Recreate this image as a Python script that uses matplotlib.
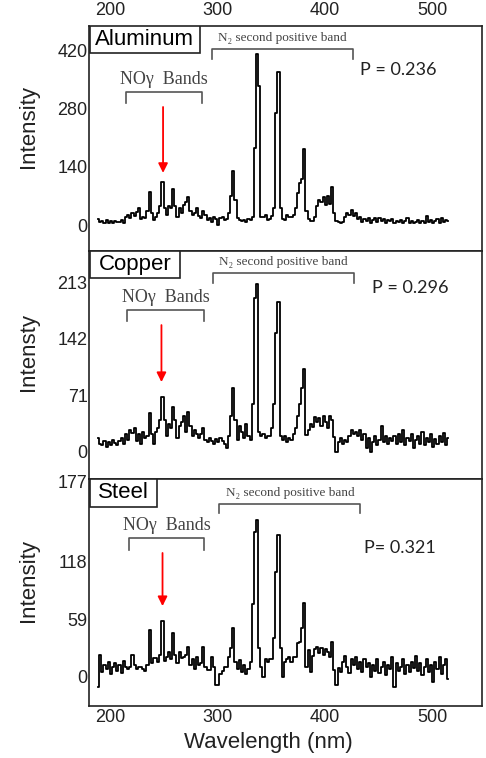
import matplotlib
matplotlib.use('Agg')
import matplotlib.pyplot as plt
from matplotlib.patches import Rectangle

plt.rcParams['font.family'] = ['Liberation Sans', 'DejaVu Sans']

# spectrometer readings, one every 2 nm
wavelength = [189, 191, 193, 195, 197, 199, 201, 203, 205, 207,
              209, 211, 213, 215, 217, 219, 221, 223, 225, 227,
              229, 231, 233, 235, 237, 239, 241, 243, 245, 247,
              249, 251, 253, 255, 257, 259, 261, 263, 265, 267,
              269, 271, 273, 275, 277, 279, 281, 283, 285, 287,
              289, 291, 293, 295, 297, 299, 301, 303, 305, 307,
              309, 311, 313, 315, 317, 319, 321, 323, 325, 327,
              329, 331, 333, 335, 337, 339, 341, 343, 345, 347,
              349, 351, 353, 355, 357, 359, 361, 363, 365, 367,
              369, 371, 373, 375, 377, 379, 381, 383, 385, 387,
              389, 391, 393, 395, 397, 399, 401, 403, 405, 407,
              409, 411, 413, 415, 417, 419, 421, 423, 425, 427,
              429, 431, 433, 435, 437, 439, 441, 443, 445, 447,
              449, 451, 453, 455, 457, 459, 461, 463, 465, 467,
              469, 471, 473, 475, 477, 479, 481, 483, 485, 487,
              489, 491, 493, 495, 497, 499, 501, 503, 505, 507,
              509, 511, 513, 515]

aluminum = [14, 8, 10, 5, 12, 6, 9, 4, 10, 7,
            8, 12, 6, 20, 25, 18, 28, 22, 32, 40,
            15, 20, 18, 35, 80, 30, 12, 20, 30, 45,
            104, 40, 25, 45, 40, 86, 45, 20, 40, 30,
            48, 55, 67, 35, 25, 30, 41, 22, 18, 33,
            25, 12, 18, 8, 20, 15, 0, 18, 20, 12,
            15, 30, 70, 131, 60, 17, 12, 10, 12, 8,
            14, 12, 20, 186, 410, 333, 20, 20, 25, 12,
            15, 22, 40, 270, 367, 40, 15, 12, 25, 20,
            20, 25, 40, 77, 100, 110, 183, 35, 15, 10,
            10, 20, 45, 60, 55, 68, 48, 70, 50, 92,
            30, 10, 7, 5, 8, 20, 30, 24, 36, 22,
            28, 14, 20, 8, 15, 10, 18, 6, 12, 16,
            8, 18, 10, 14, 6, 12, 9, 15, 5, 10,
            8, 12, 4, 9, 18, 6, 10, 5, 8, 12,
            6, 10, 4, 22, 8, 12, 5, 10, 14, 6,
            18, 8, 12, 10]

copper = [17, 10, 8, 14, 6, 12, 9, 15, 11, 8,
          14, 18, 10, 22, 15, 28, 24, 30, 14, 22,
          10, 25, 18, 20, 49, 22, 10, 25, 30, 40,
          69, 40, 20, 35, 30, 56, 40, 18, 32, 38,
          45, 25, 50, 32, 20, 28, 22, 18, 22, 30,
          15, 12, 18, 14, 10, 16, 12, 18, 14, 10,
          5, 20, 45, 80, 40, 15, 33, 25, 18, 35,
          20, 15, 60, 193, 211, 25, 20, 22, 17, 20,
          20, 30, 60, 149, 188, 20, 15, 20, 12, 18,
          15, 22, 30, 45, 60, 80, 104, 21, 27, 35,
          31, 44, 38, 42, 33, 45, 38, 30, 45, 40,
          19, 0, 12, 17, 10, 15, 12, 20, 28, 22,
          25, 20, 28, 15, 22, 5, 18, 0, 12, 20,
          8, 15, 32, 12, 20, 10, 18, 14, 20, 10,
          22, 12, 28, 8, 18, 14, 22, 5, 15, 20,
          10, 25, 8, 18, 12, 22, 6, 16, 10, 20,
          12, 24, 8, 18]

steel = [-11, 22, 5, 12, 8, 15, 3, 10, 14, 6,
         12, 4, 16, 10, 8, 10, 22, 12, 8, 10,
         10, 8, 6, 12, 48, 14, 19, 19, 15, 22,
         57, 16, 20, 25, 18, 45, 22, 14, 25, 19,
         20, 22, 31, 12, 18, 8, 20, 12, 14, 31,
         10, 7, 7, 20, 10, -8, -8, 3, 6, 10,
         10, 20, 30, 50, 15, 8, 17, 5, 12, 3,
         8, 15, 75, 149, 161, 30, 10, 0, 18, 15,
         18, 18, 40, 108, 145, 30, 0, 15, 18, 20,
         15, 20, 20, 35, 36, 50, 76, 10, 27, 5,
         21, 28, 31, 24, 30, 22, 29, 25, 20, 36,
         7, -8, 9, 5, 15, 21, 10, 4, 18, 12,
         20, 8, 15, 5, 18, 10, 14, 0, 12, 6,
         18, 4, 10, 15, 2, 12, 8, 20, -10, 14,
         6, 10, 18, 3, 12, 5, 15, 9, 21, 6,
         14, 2, 10, 18, 5, 12, -5, 15, 8, 20,
         3, 12, 18, -2]

names = ['Aluminum', 'Copper', 'Steel']
ylabels = ['Intensity', 'Intensty', 'Intensity']
p_labels = ['P = 0.236', 'P = 0.296', 'P= 0.321']
yticks = [[0, 140, 280, 420], [0, 71, 142, 213], [0, 59, 118]]
xticks = [200, 300, 400, 500]
spectra = [aluminum, copper, steel]

# layout of each panel (figure fractions / axes fractions)
rects = [[0.183, 0.6689, 0.809, 0.2968],
         [0.183, 0.3681, 0.809, 0.3008],
         [0.183, 0.0686, 0.809, 0.2995]]
ylims = [(-62, 478), (-34, 252), (-30, 203)]
box_w = [0.282, 0.232, 0.173]
box_h = [0.12, 0.118, 0.123]
n2_x = [(295, 426), (296, 427), (302, 433)]
n2_y = [(0.898, 0.853, 0.947), (0.904, 0.86, 0.952), (0.89, 0.85, 0.938)]
no_x = [(215, 286), (216, 288), (218, 288)]
no_y = [(0.707, 0.658, 0.76), (0.741, 0.693, 0.794), (0.74, 0.687, 0.793)]
arrow_x = [249.5, 248, 249]
arrow_y = [(0.64, 0.347), (0.675, 0.425), (0.674, 0.44)]
p_pos = [(468, 0.804), (479.5, 0.838), (470, 0.696)]
ylabel_y = [0.8325, 0.5356, 0.2348]

fig = plt.figure(figsize=(4.86, 7.58), dpi=100)
gray = '#555555'

for i in range(3):
    ax = fig.add_axes(rects[i])
    ax.plot(wavelength, spectra[i], color='black', lw=1.3, drawstyle='steps-mid')
    ax.set_xlim(180.5, 546.5)
    ax.set_ylim(*ylims[i])
    ax.set_xticks(xticks)
    ax.set_yticks(yticks[i])
    for s in ax.spines.values():
        s.set_linewidth(1.2)
        s.set_color('#222222')
    ax.tick_params(length=0, labelsize=13, colors='#222222', pad=1)
    if i == 0:
        ax.tick_params(axis='x', labeltop=True, labelbottom=False, pad=5)
    elif i == 1:
        ax.tick_params(axis='x', labelbottom=False)
    else:
        ax.tick_params(axis='x', pad=2)
        ax.text(-0.003, 0.982, '177', transform=ax.transAxes, ha='right',
                va='center', fontsize=13, color='#222222')

    # sample name box
    ax.add_patch(Rectangle((0.0025, 1 - box_h[i]), box_w[i] - 0.0025, box_h[i],
                           transform=ax.transAxes, fc='white', ec='#222222',
                           lw=1.2, zorder=5))
    ax.text(0.0025 + (box_w[i] - 0.0025) / 2, 1 - box_h[i] / 2, names[i],
            transform=ax.transAxes, ha='center', va='center', fontsize=16, zorder=6)

    tr = ax.get_xaxis_transform()
    # N2 second positive band bracket
    a, b = n2_x[i]
    top, leg, ty = n2_y[i]
    ax.plot([a, a, b, b], [leg, top, top, leg], color=gray, lw=1.2, transform=tr)
    ax.text((a + b) / 2, ty, 'N\u2082 second positive band', transform=tr,
            ha='center', va='center', fontsize=9.5, color='#444444',
            family=['Liberation Serif', 'DejaVu Serif'])
    # NO gamma bracket
    a, b = no_x[i]
    top, leg, ty = no_y[i]
    ax.plot([a, a, b, b], [leg, top, top, leg], color=gray, lw=1.2, transform=tr)
    ax.text((a + b) / 2, ty, 'NO\u03b3  Bands', transform=tr,
            ha='center', va='center', fontsize=13, color='#444444',
            family=['Liberation Serif', 'DejaVu Serif'])
    # red arrow
    ax.annotate('', xy=(arrow_x[i], arrow_y[i][1]), xytext=(arrow_x[i], arrow_y[i][0]),
                xycoords=tr, textcoords=tr,
                arrowprops=dict(arrowstyle='-|>', color='red', lw=1.3,
                                mutation_scale=14, shrinkA=0, shrinkB=0))
    ax.text(p_pos[i][0], p_pos[i][1], p_labels[i], transform=tr, ha='center',
            va='center', fontsize=13, color='#222222', family=['Lato', 'DejaVu Sans'])

    fig.text(0.058, ylabel_y[i], ylabels[i], rotation=90, ha='center', va='center',
             fontsize=16, color='#222222')

fig.text(0.553, 0.0198, 'Wavelength (nm)', ha='center', va='center',
         fontsize=16, color='#222222')

fig.savefig('out.png', dpi=100)
